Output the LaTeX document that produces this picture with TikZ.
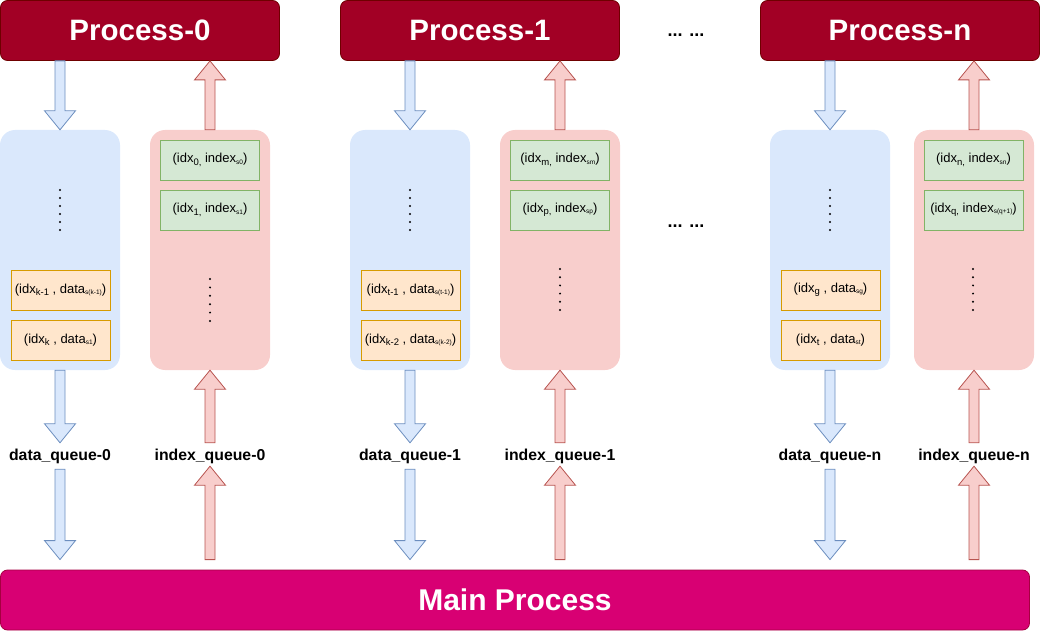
\documentclass[tikz,border=0pt]{standalone}
\usepackage{fontspec}
\setmainfont{Liberation Sans}
\usetikzlibrary{calc}
\definecolor{procfill}{HTML}{A20025}
\definecolor{procdraw}{HTML}{6F0000}
\definecolor{mainfill}{HTML}{D80073}
\definecolor{maindraw}{HTML}{A50040}
\definecolor{bluefill}{HTML}{DAE8FC}
\definecolor{bluedraw}{HTML}{6C8EBF}
\definecolor{pinkfill}{HTML}{F8CECC}
\definecolor{pinkdraw}{HTML}{B85450}
\definecolor{greenfill}{HTML}{D5E8D4}
\definecolor{greendraw}{HTML}{82B366}
\definecolor{orangefill}{HTML}{FFE6CC}
\definecolor{orangedraw}{HTML}{D79B00}
\newcommand\subA[1]{\raisebox{-2.5pt}{\fontsize{9.5}{9.5}\selectfont #1}}
\newcommand\subB[1]{\raisebox{-1.5pt}{\fontsize{6.5}{6.5}\selectfont #1}}
\newcommand\barrow[3]{%
  \draw[#1] let \p1=(#2), \p2=(#3), \n1={\y2-sign(\y2-\y1)*19} in
    (\x1-5pt,\y1) -- (\x1-5pt,\n1*1pt) -- (\x1-15.5pt,\n1*1pt) -- (\x1,\y2)
    -- (\x1+15.5pt,\n1*1pt) -- (\x1+5pt,\n1*1pt) -- (\x1+5pt,\y1) -- cycle;}
\tikzset{
  proc/.style={draw=procdraw, fill=procfill, rounded corners=7pt, line width=0.8pt,
    minimum width=279pt, minimum height=60pt, inner sep=0pt, text=white,
    font=\fontsize{29.5}{30}\selectfont\bfseries},
  mainbox/.style={draw=maindraw, fill=mainfill, rounded corners=7pt, line width=0.8pt,
    minimum width=1029pt, minimum height=60pt, inner sep=0pt, text=white,
    font=\fontsize{30}{30}\selectfont\bfseries},
  bluecol/.style={fill=bluefill, rounded corners=15pt, minimum width=120pt,
    minimum height=240pt, inner sep=0pt},
  pinkcol/.style={fill=pinkfill, rounded corners=15pt, minimum width=120pt,
    minimum height=240pt, inner sep=0pt},
  greenitem/.style={draw=greendraw, fill=greenfill, line width=0.8pt,
    minimum width=99pt, minimum height=40pt, inner sep=0pt,
    font=\fontsize{13}{14}\selectfont},
  orangeitem/.style={draw=orangedraw, fill=orangefill, line width=0.8pt,
    minimum width=99pt, minimum height=40pt, inner sep=0pt,
    font=\fontsize{13}{14}\selectfont},
  qlabel/.style={minimum height=26pt, inner sep=0pt,
    font=\fontsize{15.8}{16}\selectfont\bfseries},
  ellip/.style={anchor=base, inner sep=0pt, font=\fontsize{18}{18}\selectfont\bfseries},
  bluearrow/.style={draw=bluedraw, fill=bluefill, line width=0.8pt, line join=miter},
  pinkarrow/.style={draw=pinkdraw, fill=pinkfill, line width=0.8pt, line join=miter},
  vdot/.style={fill=black},
}
\begin{document}
\begin{tikzpicture}[x=1pt, y=-1pt]
\useasboundingbox (0,0) rectangle (1041,631);
% processes
\node[proc] (p0) at (140,30.5) {Process-0};
\node[proc] (p1) at (480,30.5) {Process-1};
\node[proc] (pn) at (900,30.5) {Process-n};
\node[ellip] (e1) at (686,37) {... ...};
\node[ellip] (e2) at (686,228) {... ...};
\node[mainbox] (main) at (515,600) {Main Process};
% columns
\node[bluecol] (bq0) at (60,250) {};
\node[pinkcol] (iq0) at (210,250) {};
\node[bluecol] (bq1) at (410,250) {};
\node[pinkcol] (iq1) at (560,250) {};
\node[bluecol] (bqn) at (830,250) {};
\node[pinkcol] (iqn) at (974,250) {};
% items
\node[greenitem] (g01) at (210,160) {(idx\subA{0,} index\subB{s0})};
\node[greenitem] (g02) at (210,210) {(idx\subA{1,} index\subB{s1})};
\node[greenitem] (g11) at (560,160) {(idx\subA{m,} index\subB{sm})};
\node[greenitem] (g12) at (560,210) {(idx\subA{p,} index\subB{sp})};
\node[greenitem] (gn1) at (973.5,160) {(idx\subA{n,} index\subB{sn})};
\node[greenitem] (gn2) at (973.5,210) {(idx\subA{q,} index\subB{s(q+1)})};
\node[orangeitem] (o01) at (60.5,290) {(idx\subA{k-1} , data\subB{s(k-1)})};
\node[orangeitem] (o02) at (60.5,340) {(idx\subA{k} , data\subB{s1})};
\node[orangeitem] (o11) at (410.5,290) {(idx\subA{t-1} , data\subB{s(t-1)})};
\node[orangeitem] (o12) at (410.5,340) {(idx\subA{k-2} , data\subB{s(k-2)})};
\node[orangeitem] (on1) at (830.5,290) {(idx\subA{g} , data\subB{sg})};
\node[orangeitem] (on2) at (830.5,340) {(idx\subA{t} , data\subB{st})};
% dots
\foreach \cx in {60,410,830} {
  \foreach \i in {0,...,5} { \fill[vdot] (\cx,190+\i*8) circle (1.1pt); }
}
\foreach \i in {0,...,5} { \fill[vdot] (210,279+\i*8.4) circle (1.1pt); }
\foreach \cx in {560,973} {
  \foreach \i in {0,...,5} { \fill[vdot] (\cx,269+\i*8.2) circle (1.1pt); }
}
% queue labels
\node[qlabel] (dl0) at (60,456) {data\_queue-0};
\node[qlabel] (il0) at (210,456) {index\_queue-0};
\node[qlabel] (dl1) at (410,456) {data\_queue-1};
\node[qlabel] (il1) at (560,456) {index\_queue-1};
\node[qlabel] (dln) at (830,456) {data\_queue-n};
\node[qlabel] (iln) at (974,456) {index\_queue-n};
% arrows
\foreach \vb/\vq/\vp/\vd/\vl in {bq0/iq0/p0/dl0/il0, bq1/iq1/p1/dl1/il1, bqn/iqn/pn/dln/iln} {
  \barrow{bluearrow}{\vb.north |- \vp.south}{\vb.north}
  \barrow{pinkarrow}{\vq.north}{\vq.north |- \vp.south}
  \barrow{bluearrow}{\vb.south}{\vd.north}
  \barrow{bluearrow}{\vd.south}{$(\vd.south |- main.north)+(0,-10)$}
  \barrow{pinkarrow}{\vl.north}{\vq.south}
  \barrow{pinkarrow}{$(\vl.south |- main.north)+(0,-10)$}{$(\vl.south)+(0,-3)$}
}
\end{tikzpicture}
\end{document}
